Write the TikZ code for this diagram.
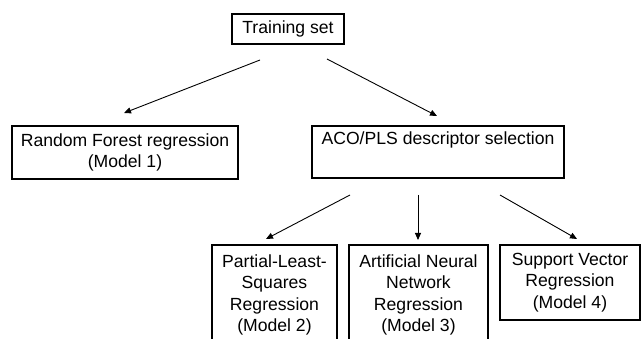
\documentclass[tikz,border=0pt]{standalone}
\usepackage{fontspec}
\setmainfont{Liberation Sans}
\usetikzlibrary{arrows.meta,shadows}
\begin{document}
\begin{tikzpicture}[x=1pt,y=-1pt,
  box/.style={draw=black,line width=2pt,fill=white,inner sep=0pt,
    align=center,font=\fontsize{17.6}{21.5}\selectfont,
    drop shadow={shadow xshift=1.2pt,shadow yshift=-1.2pt,opacity=1,fill=black}},
  arr/.style={line width=0.9pt,-{Triangle[length=7pt,width=6pt]}}]
\useasboundingbox (0,0) rectangle (641,339);
\fill[white] (0,0) rectangle (641,339);
\node[box,minimum width=112pt,minimum height=30pt] (train) at (288,29) {Training set};
\node[box,minimum width=226pt,minimum height=53pt] (rf) at (125,152.5) {Random Forest regression\\(Model 1)};
\node[box,minimum width=252pt,minimum height=52pt] (aco) at (438,152) {ACO/PLS descriptor selection\\\strut};
\node[box,minimum width=125pt,minimum height=100pt] (pls) at (274.5,295) {Partial-Least-\\Squares\\Regression\\(Model 2)};
\node[box,minimum width=139pt,minimum height=100pt] (ann) at (418.5,295) {Artificial Neural\\Network\\Regression\\(Model 3)};
\node[box,minimum width=140pt,minimum height=75pt] (svr) at (570,282.5) {Support Vector\\Regression\\(Model 4)};
\coordinate (t1) at (260,60);
\coordinate (t2) at (327,59);
\coordinate (rfin) at (124,113);
\coordinate (acoin) at (437,116);
\coordinate (a1) at (350,195);
\coordinate (a2) at (418,195);
\coordinate (a3) at (500,195);
\coordinate (plsin) at (266,239);
\coordinate (annin) at (418,240);
\coordinate (svrin) at (577,239);
\draw[arr] (t1) -- (rfin);
\draw[arr] (t2) -- (acoin);
\draw[arr] (a1) -- (plsin);
\draw[arr] (a2) -- (annin);
\draw[arr] (a3) -- (svrin);
\end{tikzpicture}
\end{document}
